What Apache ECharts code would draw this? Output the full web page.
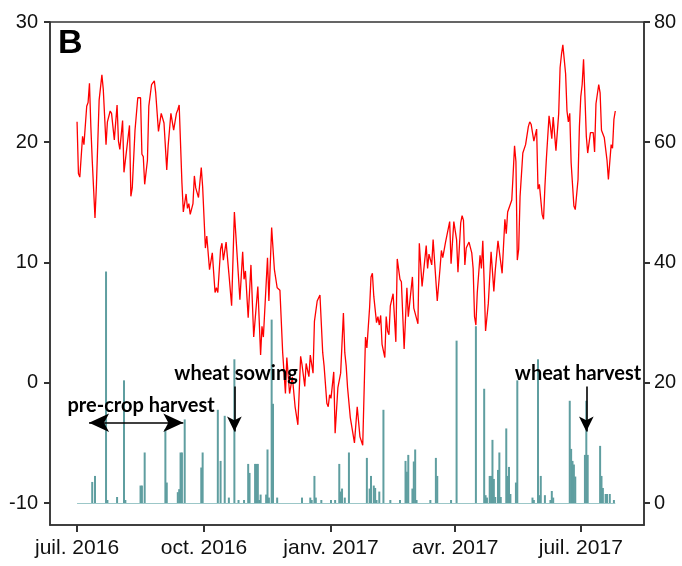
<!DOCTYPE html>
<html>
<head>
<meta charset="utf-8">
<script src="https://cdn.jsdelivr.net/npm/echarts@6/dist/echarts.min.js"></script>
<style>
  html, body { margin: 0; padding: 0; background: #fff; }
  #chart { width: 682px; height: 566px; }
</style>
</head>
<body>
<div id="chart"></div>
<script>
// days counted from 1 July 2016
var monthTicks = [0, 92, 184, 274, 365];
var monthLabels = ['juil. 2016', 'oct. 2016', 'janv. 2017', 'avr. 2017', 'juil. 2017'];
var tempTicks = [-10, 0, 10, 20, 30];
var rainTicks = [0, 20, 40, 60, 80];

// daily mean air temperature (°C), [day, value]
var temperature = [
  [0,21.7],[1,17.4],[2,17.1],[4,20.5],[5,19.8],[7,23.0],[8,23.3],[9,24.9],[10,21.3],[11,18.5],
  [13,13.7],[14,16.3],[16,23.5],[18,25.6],[19,24.4],[21,19.8],[22,21.7],[24,22.6],[25,22.4],[27,20.2],
  [29,23.1],[30,20.1],[31,19.4],[33,21.8],[34,17.5],[35,17.5],[38,21.4],[39,15.5],[40,16.2],[42,21.0],
  [44,23.7],[46,23.7],[47,19.0],[48,18.8],[49,16.5],[51,18.5],[52,23.0],[54,24.8],[56,25.1],[57,24.1],
  [59,20.9],[60,21.0],[61,22.4],[62,22.4],[63,21.6],[64,21.6],[65,17.7],[66,19.7],[67,19.7],[68,22.4],
  [70,21.0],[72,22.4],[73,22.7],[74,23.1],[76,16.6],[77,14.2],[79,15.7],[80,14.5],[81,14.9],[82,14.0],
  [84,14.9],[85,17.2],[86,16.2],[88,15.4],[90,17.9],[91,16.3],[93,11.2],[94,12.2],[96,9.4],[98,10.8],
  [100,7.5],[101,7.9],[102,7.5],[104,11.1],[105,11.6],[106,10.2],[108,11.7],[110,9.1],[111,9.1],[112,6.4],
  [114,14.2],[115,12.4],[118,6.9],[120,10.9],[121,8.6],[122,9.3],[124,5.4],[126,9.8],[128,3.8],[131,8.0],
  [133,2.3],[134,4.7],[135,3.8],[138,10.4],[139,6.8],[141,12.9],[143,9.4],[144,9.3],[145,7.9],[147,7.7],
  [149,2.5],[151,-0.9],[152,2.1],[154,-0.9],[156,0.5],[158,-2.0],[160,-3.5],[162,2.2],[163,1.5],[165,-0.3],
  [166,1.6],[168,0.5],[169,2.3],[171,0.8],[172,5.1],[174,6.8],[176,7.3],[178,2.5],[179,1.4],[181,-1.7],
  [182,-2.0],[183,-1.0],[184,-1.3],[186,0.9],[187,-4.2],[188,-4.1],[189,-0.4],[191,0.8],[193,5.8],[194,2.5],
  [195,1.4],[196,-0.4],[197,-0.4],[198,-2.9],[199,-2.9],[201,-5.0],[203,-2.0],[205,-4.5],[207,-5.2],[209,3.8],
  [210,2.9],[212,6.3],[213,8.8],[214,9.1],[215,7.2],[217,5.0],[218,5.5],[219,4.8],[220,5.6],[221,3.2],
  [223,2.1],[224,5.5],[225,4.3],[226,4.0],[227,6.4],[229,7.4],[231,3.4],[232,10.3],[234,8.6],[235,8.4],
  [237,2.8],[239,7.9],[240,5.5],[243,8.8],[244,6.2],[245,6.2],[247,4.9],[248,11.6],[250,8.0],[253,11.4],
  [254,9.5],[255,10.7],[257,9.8],[258,11.9],[259,11.9],[261,6.8],[263,9.5],[264,11.0],[265,10.4],[267,11.7],
  [268,11.7],[270,13.4],[271,9.9],[273,13.4],[275,11.9],[276,9.2],[278,13.3],[279,13.9],[280,13.5],[281,9.8],
  [282,11.2],[283,11.1],[284,11.7],[286,10.8],[287,9.5],[288,5.5],[289,4.8],[290,7.5],[292,10.6],[293,9.5],
  [294,11.8],[295,8.3],[296,4.3],[298,6.6],[300,10.9],[302,7.6],[303,9.3],[304,9.3],[305,11.8],[306,11.7],
  [308,9.1],[310,13.6],[311,12.4],[312,14.2],[313,14.2],[315,15.2],[316,17.4],[317,19.7],[318,18.4],[319,10.2],
  [320,11.1],[321,15.5],[323,19.1],[324,19.1],[325,19.8],[327,21.3],[328,21.7],[329,21.5],[331,20.1],[332,20.1],
  [333,21.1],[334,16.1],[335,16.5],[337,14.0],[338,13.6],[339,16.3],[340,18.5],[342,22.2],[343,21.3],[344,20.3],
  [345,22.1],[346,22.1],[347,19.3],[349,22.4],[350,26.2],[351,27.3],[352,28.1],[354,25.7],[355,22.6],[356,21.7],
  [357,22.4],[358,18.3],[360,14.7],[361,14.4],[363,16.9],[364,21.3],[365,23.8],[366,24.8],[367,26.9],[368,23.8],
  [369,20.5],[370,19.1],[372,20.8],[374,20.8],[375,19.2],[376,23.2],[378,24.8],[379,24.1],[380,21.0],[382,20.4],
  [384,18.5],[385,16.9],[387,19.8],[388,19.5],[389,21.9],[390,22.6]
];

// daily rainfall (mm), [day, value]
var precipitation = [
  [11,3.5],[13,4.5],[21,38.5],[22,0.5],[29,1.0],[34,20.4],[35,0.5],[46,2.9],[47,2.9],[49,8.4],
  [64,12.3],[65,3.4],[73,1.8],[74,2.3],[75,8.4],[76,8.4],[78,13.9],[90,5.9],[91,8.4],[102,15.5],
  [104,7.0],[107,14.5],[110,0.9],[114,23.9],[117,0.5],[121,0.5],[124,6.5],[125,5.0],[129,6.5],[130,6.5],
  [131,6.5],[132,0.5],[133,1.4],[137,1.4],[138,8.9],[139,0.9],[141,30.5],[142,16.5],[145,0.9],[163,0.9],
  [169,0.9],[170,0.5],[172,4.5],[173,0.9],[177,0.5],[184,0.5],[187,0.5],[190,6.5],[191,1.9],[192,2.4],
  [194,0.9],[197,8.4],[210,7.5],[212,2.4],[213,4.5],[215,2.9],[216,2.5],[217,0.5],[219,1.9],[222,15.5],
  [227,0.5],[234,0.5],[238,7.0],[239,5.2],[240,8.0],[243,2.4],[244,6.9],[245,8.9],[246,0.5],[256,0.5],
  [260,7.5],[261,4.5],[271,0.5],[275,27.0],[289,29.4],[295,19.0],[296,1.3],[297,0.9],[299,4.5],[300,4.5],
  [301,10.5],[302,4.0],[303,1.0],[305,5.5],[306,8.4],[307,1.0],[311,12.4],[312,4.5],[313,6.0],[314,1.5],
  [318,3.4],[319,20.4],[330,0.9],[331,0.5],[334,23.9],[335,1.3],[336,4.5],[339,1.3],[343,0.5],[344,2.0],
  [345,0.9],[357,17.0],[358,9.0],[359,7.0],[360,6.4],[361,4.4],[368,8.0],[369,17.0],[370,8.0],[379,9.5],
  [380,4.5],[381,2.5],[383,1.5],[384,1.5],[386,1.5],[389,0.5]
];

var axisFont = 'Liberation Sans, Arial, sans-serif';
var noteFont = 'Lato, Open Sans, sans-serif';
var axisColor = '#333';

var chart = echarts.init(document.getElementById('chart'));

function noteLabel(name, day, t) {
    return { name: name, coord: [day, t] };
}

var option = {
    animation: false,
    backgroundColor: '#fff',
    title: {
        text: 'B',
        left: 53,
        top: 22,
        textStyle: { fontSize: 34, fontWeight: 'bold', color: '#000', fontFamily: axisFont }
    },
    grid: {
        left: 50, right: 38, top: 22, bottom: 41,
        show: true,
        borderColor: axisColor,
        borderWidth: 1.5,
        backgroundColor: 'transparent'
    },
    xAxis: {
        type: 'value',
        min: -19.6,
        max: 410.8,
        splitLine: { show: false },
        axisLine: { show: true, onZero: false, lineStyle: { color: axisColor, width: 1.5 } },
        axisTick: { show: true, customValues: monthTicks, length: 7, lineStyle: { color: axisColor, width: 2 } },
        axisLabel: {
            customValues: monthTicks,
            margin: 13,
            fontSize: 21,
            color: '#111',
            fontFamily: axisFont,
            formatter: function (v) { return monthLabels[monthTicks.indexOf(v)]; }
        }
    },
    yAxis: [{
        type: 'value',
        position: 'left',
        min: -11.83,
        max: 30,
        splitLine: { show: false },
        axisLine: { show: true, onZero: false, lineStyle: { color: axisColor, width: 1.5 } },
        axisTick: { show: true, customValues: tempTicks, length: 6, lineStyle: { color: axisColor, width: 2 } },
        axisLabel: { customValues: tempTicks, margin: 12, fontSize: 20, color: '#111', fontFamily: axisFont }
    }, {
        type: 'value',
        position: 'right',
        min: -3.66,
        max: 80,
        splitLine: { show: false },
        axisLine: { show: true, onZero: false, lineStyle: { color: axisColor, width: 1.5 } },
        axisTick: { show: true, customValues: rainTicks, length: 6, lineStyle: { color: axisColor, width: 2 } },
        axisLabel: { customValues: rainTicks, margin: 10, fontSize: 20, color: '#111', fontFamily: axisFont }
    }],
    series: [{
        name: 'rain',
        type: 'bar',
        xAxisIndex: 0,
        yAxisIndex: 1,
        barWidth: 2,
        itemStyle: { color: '#5f9ea0' },
        data: precipitation,
        z: 2,
        markLine: {
            silent: true,
            symbol: ['none', 'none'],
            label: { show: false },
            lineStyle: { color: '#9cc7c8', width: 1.2, type: 'solid' },
            data: [[{ coord: [temperature[0][0], 0] }, { coord: [temperature[temperature.length - 1][0], 0] }]]
        }
    }, {
        name: 'temperature',
        type: 'line',
        xAxisIndex: 0,
        yAxisIndex: 0,
        showSymbol: false,
        lineStyle: { color: '#ff0000', width: 1.3 },
        itemStyle: { color: '#ff0000' },
        data: temperature,
        z: 3,
        markLine: {
            silent: true,
            label: { show: false },
            lineStyle: { color: '#000', width: 1.6, type: 'solid' },
            data: [
                [{ coord: [8.7, -3.33], symbol: 'arrow', symbolSize: [14, 20] },
                 { coord: [77.0, -3.33], symbol: 'arrow', symbolSize: [14, 20] }],
                [{ coord: [114, -0.31], symbol: 'none' },
                 { coord: [114, -4.05], symbol: 'arrow', symbolSize: [11, 15] }],
                [{ coord: [369, -0.31], symbol: 'none' },
                 { coord: [369, -4.05], symbol: 'arrow', symbolSize: [11, 15] }]
            ]
        },
        markPoint: {
            silent: true,
            symbol: 'circle',
            symbolSize: 1,
            itemStyle: { color: 'rgba(0,0,0,0)' },
            label: {
                show: true,
                position: 'inside',
                formatter: '{b}',
                color: '#000',
                fontWeight: 'bold',
                fontSize: 20,
                fontFamily: noteFont
            },
            data: [
                noteLabel('pre-crop harvest', 46.4, -1.9),
                noteLabel('wheat sowing', 115.2, 0.8),
                noteLabel('wheat harvest', 363, 0.8)
            ]
        }
    }]
};

chart.setOption(option);
</script>
</body>
</html>
